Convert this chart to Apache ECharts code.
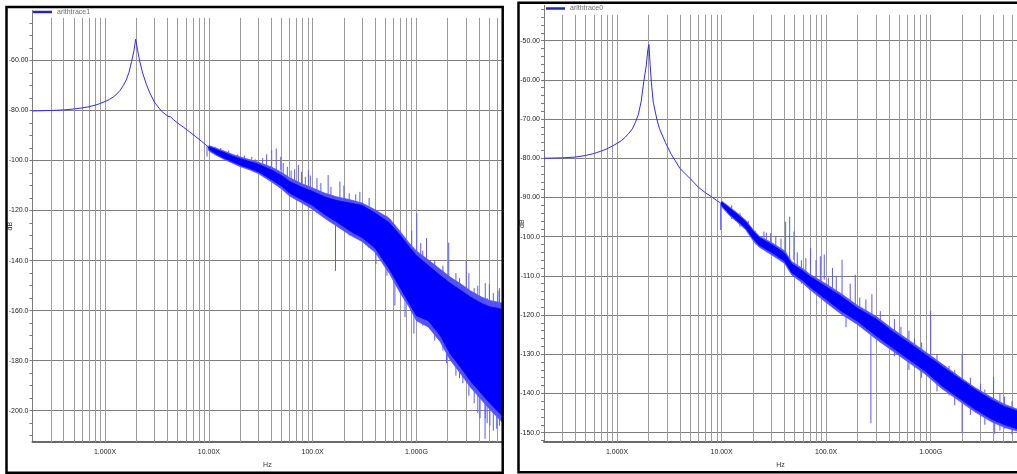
<!DOCTYPE html>
<html>
<head>
<meta charset="utf-8">
<script src="https://cdn.jsdelivr.net/npm/echarts@6/dist/echarts.min.js"></script>
<style>
html,body{margin:0;padding:0;background:#fff;}
#c{width:1017px;height:474px;}
</style>
</head>
<body>
<div id="c"></div>
<script>
// ---------------- DATA ----------------
// Frequencies in MHz (axis labels as printed: X = MHz units, G = GHz)
const xTickValues = [1, 10, 100, 1000];
const xTickLabels = ['1.000X', '10.00X', '100.0X', '1.000G'];

// Left panel: arithtrace1
const t1Freq = [0.2,0.3,0.4,0.5,0.6,0.7,0.8,0.9,1.0,1.1,1.2,1.3,1.4,1.5,1.6,1.7,1.8,1.9,1.97,2.05,2.15,2.3,2.5,2.7,3.0,3.5,4.0,4.3,4.6,5.0,5.7,6.5,7.5,8.5,9.5,10,12,14,17,20,25,30,40,50,60,80,100,130,170,230,300,400,550,700,850,1000,1300,1700,2100,2700,3300,4200,5100,6000,6700];
const t1Mid = [-80.2,-80.0,-79.8,-79.4,-79.0,-78.5,-77.9,-77.2,-76.4,-75.6,-74.6,-73.4,-71.9,-70.0,-67.8,-64.8,-60.5,-56.0,-51.5,-55.5,-60.0,-65.0,-69.5,-73.0,-76.8,-80.3,-82.2,-82.6,-83.8,-85.0,-86.7,-88.5,-90.5,-92.3,-94.0,-95.0,-96.6,-97.8,-99.3,-100.5,-101.8,-103.0,-105.7,-108.0,-110.5,-113.0,-115.0,-118.0,-120.5,-122.8,-125.0,-128.5,-133.5,-140.0,-144.5,-148.5,-152.5,-157.5,-162.5,-167.0,-171.0,-175.0,-178.0,-179.5,-180.5];
const t1BandFreq = [10,12,14,17,20,25,30,40,50,60,80,100,130,170,230,300,400,550,700,850,1000,1300,1700,2100,2700,3300,4200,5100,6000,6700];
const t1BandTop = [-94.5,-95.8,-96.8,-98.3,-99.3,-100.5,-101.5,-103.8,-106.0,-108.4,-110.8,-112.4,-114.5,-116.0,-117.0,-118.0,-121.0,-125.0,-130.0,-134.5,-138.0,-142.0,-146.0,-149.0,-152.0,-154.5,-157.0,-158.5,-159.0,-159.5];
const t1BandBottom = [-95.5,-97.6,-99.0,-100.5,-101.8,-103.2,-104.5,-107.6,-110.2,-113.0,-115.8,-118.0,-121.5,-124.5,-128.2,-130.8,-135.0,-143.5,-151.0,-157.0,-162.0,-164.0,-170.0,-177.0,-183.0,-188.0,-193.0,-197.0,-200.0,-202.0];
const t1FringeTop = [-94.0,-95.2,-96.2,-97.6,-98.6,-99.7,-100.7,-102.6,-104.7,-106.9,-109.4,-111.0,-113.0,-114.5,-115.7,-117.0,-119.7,-123.2,-128.5,-133.0,-136.2,-139.7,-143.5,-146.5,-149.5,-152.0,-154.5,-156.0,-156.5,-157.0];
const t1FringeBottom = [-96.2,-98.1,-99.5,-101.1,-102.4,-103.8,-105.2,-108.5,-111.3,-114.2,-117.1,-119.5,-123.0,-126.2,-129.8,-132.4,-136.7,-145.2,-153.0,-158.5,-164.0,-166.5,-172.5,-179.5,-185.5,-190.5,-195.5,-199.5,-202.5,-204.5];
const t1SpikeFreq = [9.6,11.5,13,15.5,19,22,25.9,28,33,36,40.3,44.6,49.3,52,57,62,67,72.8,78,85,91,95,110,120,141,150,166,183,200,225,260,285,331,350,407,480,520,620,776,900,945,1007,1100,1150,1250,1500,1800,1950,2045,2400,2600,2800,3015,3200,3600,3900,4100,4100,4400,4580,4600,4800,5040,5100,5500,5930,6100,6300];
const t1SpikeTop = [-94,-94.5,-95,-96,-97.5,-98,-98.5,-99.5,-99,-97.5,-95.9,-95.2,-98.5,-101,-102.5,-104,-103.5,-101.8,-104.5,-106.5,-103.8,-106,-107,-109,-105.8,-110.5,-121.6,-108.4,-110,-113,-113.5,-112.5,-118.3,-115,-130,-124,-122,-127,-140,-128,-150,-121,-133,-136,-131,-140,-142,-160,-132.8,-145,-147,-170,-140.1,-145,-151,-150,-154.6,-185,-180,-190,-149,-155,-149.4,-190,-153,-190,-152,-151];
const t1SpikeBottom = [-98.4,-97.5,-98.5,-100,-102,-103,-103.1,-104,-104,-103,-106.4,-107,-104,-110,-109,-114,-110,-110,-116,-112,-112,-119,-121,-117,-116,-124,-144.1,-118,-127,-130,-122,-131,-126,-135,-141.4,-140,-146,-158,-162.6,-160,-169.2,-140,-165,-166,-165,-172,-176,-181,-150,-186,-187,-189,-155,-194,-197,-201,-170,-203,-194,-211.2,-203,-205,-165,-206,-208,-207.2,-170,-206];

// Right panel: arithtrace0
const t0Freq = [0.2,0.3,0.4,0.5,0.6,0.7,0.8,0.9,1.0,1.1,1.2,1.3,1.4,1.5,1.6,1.7,1.8,1.9,1.97,2.02,2.07,2.13,2.22,2.4,2.55,2.9,3.3,4.0,5.0,6.0,7.0,8.0,9.0,10,12,14,17,20,23,30,40,47,60,70,100,140,200,300,430,610,880,1270,1830,2650,3800,5100,6700];
const t0Mid = [-80.0,-79.9,-79.7,-79.3,-78.8,-78.2,-77.6,-76.9,-76.2,-75.5,-74.6,-73.6,-72.5,-70.8,-68.8,-65.5,-60.5,-56.5,-52.3,-51.0,-56.0,-60.7,-65.7,-70.0,-72.5,-76.0,-79.0,-82.6,-85.2,-87.4,-88.8,-89.8,-90.8,-91.6,-93.5,-95.0,-97.0,-99.5,-101.2,-103.0,-105.2,-108.2,-110.0,-111.5,-114.2,-117.0,-119.9,-123.3,-126.2,-129.1,-132.1,-135.4,-138.5,-141.5,-144.0,-145.7,-146.7];
const t0BandFreq = [10,12,14,17,20,23,30,40,47,60,70,100,140,200,300,430,610,880,1270,1830,2650,3800,5100,6700];
const t0BandTop = [-91.2,-92.8,-94.2,-96.2,-98.6,-100.3,-102.0,-104.2,-107.0,-108.8,-110.2,-112.8,-115.3,-118.3,-121.0,-124.2,-127.0,-130.0,-133.0,-136.0,-139.0,-141.6,-143.4,-144.5];
const t0BandBottom = [-92.0,-94.3,-95.8,-97.8,-100.5,-102.2,-104.0,-106.2,-109.2,-111.2,-112.8,-116.0,-119.0,-121.6,-125.3,-128.3,-131.2,-134.2,-138.0,-141.0,-144.0,-146.5,-148.0,-149.0];
const t0FringeTop = [-90.9,-92.5,-93.9,-95.8,-98.2,-99.9,-101.5,-103.6,-106.4,-108.2,-109.6,-112.1,-114.6,-117.6,-120.3,-123.5,-126.3,-129.3,-132.4,-135.5,-138.5,-141.0,-142.8,-144.0];
const t0FringeBottom = [-92.4,-94.7,-96.2,-98.2,-101.0,-102.7,-104.6,-106.8,-109.8,-111.9,-113.5,-116.8,-119.8,-122.4,-126.1,-129.1,-132.0,-135.0,-138.7,-141.7,-144.7,-147.2,-148.7,-149.6];
const t0SpikeFreq = [9.8,12.5,15,18,21,25.4,26.8,29.5,33,37,41,44.8,49.2,53,58,64,71,80,88,96,105,115,125,142,155,170,190,210,240,268,274,330,354,450,520,620,700,820,1000,1150,1500,1700,2000,2000,2400,3000,3300,4000,4100,4600,5100,5100,6000];
const t0SpikeTop = [-91.5,-92,-94,-96,-98.5,-98.7,-99,-99.1,-100,-100.5,-96.2,-94.9,-98.7,-104,-106,-105.5,-102.9,-106,-105,-104.6,-110.5,-108,-110,-105.9,-117,-112,-109.7,-115.5,-116,-122,-114.7,-119,-122.3,-121,-123,-124,-126,-127,-118.9,-130,-133,-134,-129.9,-139,-136,-137.5,-139,-135.8,-144,-140,-140.8,-146,-142];
const t0SpikeBottom = [-98.3,-95.5,-97.5,-99,-102,-101.5,-103.5,-102,-103.5,-104.5,-105,-107.1,-106,-109.5,-112,-111,-110,-113,-112,-111,-117,-116.5,-118,-115,-123.1,-120,-118,-123,-123.5,-147.6,-120,-127,-126,-130.5,-130,-134,-133.5,-136,-131,-139.5,-140.5,-143,-137,-150,-145.5,-146,-148,-142,-150.3,-149.5,-145,-149,-150.5];

// Axis tick values
const leftMajorTicks = [-60,-80,-100,-120,-140,-160,-180,-200];
const rightMajorTicks = [-50,-60,-70,-80,-90,-100,-110,-120,-130,-140,-150];

// ---------------- CHART ----------------
const FONT = '"Liberation Sans Narrow", "Arial Narrow", "Liberation Sans", sans-serif';
const chart = echarts.init(document.getElementById('c'));

function rangeTicks(from, to, step) {
  const out = [];
  for (let v = from; v >= to - 1e-9; v -= step) out.push(Math.round(v * 100) / 100);
  return out;
}
function gridFreqs(minF, maxF) {
  const out = [];
  [0.1, 1, 10, 100, 1000].forEach(d => {
    for (let m = 1; m <= 9; m++) {
      const f = d * m;
      if (f > minF * 1.0001 && f < maxF) out.push(f);
    }
  });
  return out;
}
const zip = (a, b) => a.map((v, i) => [v, b[i]]);
const yFmt = v => (Math.abs(v) < 100 ? v.toFixed(2) : v.toFixed(1));
const xFmt = v => {
  const i = xTickValues.findIndex(t => Math.abs(Math.log10(v) - Math.log10(t)) < 1e-6);
  return i >= 0 ? xTickLabels[i] : '';
};

// band polygon drawn through the axes' scales (api.coord)
function bandSeries(name, gi, freq, top, bottom, color, z) {
  return {
    type: 'custom', name: name, xAxisIndex: gi, yAxisIndex: gi * 2, silent: true, z: z, clip: true,
    data: freq.map((f, k) => [f, top[k], bottom[k]]),
    encode: { x: 0, y: [1, 2] },
    renderItem: (params, api) => {
      if (params.dataIndex !== 0) return null;
      const pts = [];
      for (let k = 0; k < freq.length; k++) pts.push(api.coord([freq[k], top[k]]));
      for (let k = freq.length - 1; k >= 0; k--) pts.push(api.coord([freq[k], bottom[k]]));
      return { type: 'polygon', shape: { points: pts }, style: { fill: color, stroke: color, lineWidth: 0.8 } };
    }
  };
}

const panels = [
  { name: 'arithtrace1', freq: t1Freq, mid: t1Mid, bf: t1BandFreq, bt: t1BandTop, bb: t1BandBottom,
    ft: t1FringeTop, fb: t1FringeBottom,
    sf: t1SpikeFreq, st: t1SpikeTop, sb: t1SpikeBottom,
    grid: { left: 32.5, top: 10.4, width: 469.7, height: 436.3 },
    yMin: -212.5, yMax: -40, majors: leftMajorTicks, minors: rangeTicks(-45, -210, 5), gridTop: -43,
    legend: { left: 33, top: 8.5 } },
  { name: 'arithtrace0', freq: t0Freq, mid: t0Mid, bf: t0BandFreq, bt: t0BandTop, bb: t0BandBottom,
    ft: t0FringeTop, fb: t0FringeBottom,
    sf: t0SpikeFreq, st: t0SpikeTop, sb: t0SpikeBottom,
    grid: { left: 544, top: 5.4, width: 475, height: 440.7 },
    yMin: -152.4, yMax: -41, majors: rightMajorTicks, minors: rangeTicks(-42, -152, 2), gridTop: -43.4,
    legend: { left: 546, top: 5 } }
];

const option = { animation: false, backgroundColor: '#fff', grid: [], xAxis: [], yAxis: [], series: [], legend: [], graphic: [] };
const X_MIN = 0.2, X_MAX = 6700;

panels.forEach((p, i) => {
  option.grid.push(Object.assign({ containLabel: false }, p.grid));
  option.xAxis.push({
    type: 'log', logBase: 10, gridIndex: i, min: X_MIN, max: X_MAX,
    name: 'Hz', nameLocation: 'middle', nameGap: 20, nameMoveOverlap: false,
    nameTextStyle: { fontSize: 7, color: '#333', fontFamily: FONT },
    axisLine: { show: true, lineStyle: { color: '#6a6a6a', width: 2 } },
    axisTick: { show: false }, splitLine: { show: false }, minorTick: { show: false },
    axisLabel: { fontSize: 7, color: '#222', fontFamily: FONT, margin: 7, formatter: xFmt, showMinLabel: false, showMaxLabel: false }
  });
  option.yAxis.push({
    type: 'value', gridIndex: i, min: p.yMin, max: p.yMax, position: 'left',
    name: 'dB', nameLocation: 'middle', nameGap: 18.5, nameRotate: 90, nameMoveOverlap: false,
    nameTextStyle: { fontSize: 7, color: '#333', fontFamily: FONT },
    axisLine: { show: true, lineStyle: { color: '#7a7a7a', width: 1 } },
    axisTick: { show: false, customValues: p.majors },
    axisLabel: { customValues: p.majors, formatter: yFmt, fontSize: 7, color: '#222', fontFamily: FONT, margin: 4 },
    splitLine: { show: true, lineStyle: { color: '#7c7c7c', width: 1 } }
  });
  option.yAxis.push({
    type: 'value', gridIndex: i, min: p.yMin, max: p.yMax, position: 'left',
    axisLine: { show: false },
    axisTick: { show: true, inside: false, length: 3, customValues: p.minors, lineStyle: { color: '#777', width: 1 } },
    axisLabel: { show: false }, splitLine: { show: false }
  });
  const yIdx = i * 2;
  // vertical log grid lines (carried by an empty helper series)
  option.series.push({
    type: 'line', name: p.name + '-grid', xAxisIndex: i, yAxisIndex: yIdx, data: [], silent: true, z: 1,
    markLine: {
      silent: true, symbol: ['none', 'none'], z: 1, animation: false,
      label: { show: false },
      lineStyle: { type: 'solid', color: '#9c9c9c', width: 1 },
      emphasis: { disabled: true },
      data: gridFreqs(X_MIN, X_MAX).map(f => [{ coord: [f, p.gridTop] }, { coord: [f, p.yMin] }])
    }
  });
  option.series.push({
    type: 'line', name: p.name, xAxisIndex: i, yAxisIndex: yIdx,
    data: zip(p.freq, p.mid), showSymbol: false, z: 2,
    lineStyle: { color: '#2b2bff', width: 1 }, itemStyle: { color: '#2424c8' }
  });
  option.series.push(bandSeries(p.name + '-fringe', i, p.bf, p.ft, p.fb, '#5050ff', 3));
  option.series.push({
    type: 'custom', name: p.name + '-spikes', xAxisIndex: i, yAxisIndex: yIdx, silent: true, z: 4, clip: true,
    data: p.sf.map((f, k) => [f, p.st[k], p.sb[k]]),
    encode: { x: 0, y: [1, 2] },
    renderItem: (params, api) => {
      const a = api.coord([api.value(0), api.value(1)]);
      const b = api.coord([api.value(0), api.value(2)]);
      return { type: 'line', shape: { x1: a[0], y1: a[1], x2: b[0], y2: b[1] }, style: { stroke: '#5a5aff', lineWidth: 1 } };
    }
  });
  option.series.push(bandSeries(p.name + '-band', i, p.bf, p.bt, p.bb, '#0000ff', 5));
  option.legend.push({
    data: [{ name: p.name, itemStyle: { color: '#2424c0' } }],
    left: p.legend.left, top: p.legend.top, padding: 0, itemWidth: 19, itemHeight: 2.5, icon: 'rect',
    selectedMode: false, textStyle: { fontSize: 7, color: '#6b6b6b', fontFamily: FONT }
  });
});

option.graphic = [
  { type: 'rect', z: 100, silent: true, shape: { x: 6.5, y: 7, width: 496.2, height: 465.7 }, style: { fill: 'none', stroke: '#000', lineWidth: 2.5 } },
  { type: 'rect', z: 100, silent: true, shape: { x: 518.5, y: 2.8, width: 520, height: 469.5 }, style: { fill: 'none', stroke: '#000', lineWidth: 2.5 } }
];

chart.setOption(option);
</script>
</body>
</html>
